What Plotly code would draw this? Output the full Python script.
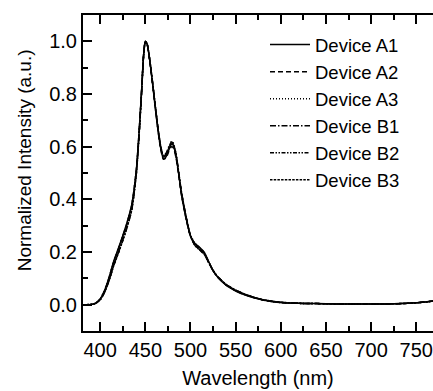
import plotly.graph_objects as go

wavelength = [380, 385, 390, 395, 400, 405, 410, 415, 420, 425, 430, 435, 440, 443, 446, 448,
              450, 452, 455, 458, 461, 464, 467, 470, 473, 476, 479, 481, 484, 487, 490, 495,
              500, 505, 510, 515, 520, 525, 530, 540, 550, 560, 570, 580, 590, 600, 620, 640,
              660, 680, 700, 720, 740, 760, 770]

device_a1 = [0.000, 0.000, 0.001, 0.006, 0.022, 0.055, 0.105, 0.165, 0.212, 0.262, 0.315, 0.380,
             0.510, 0.650, 0.820, 0.945, 1.000, 0.990, 0.925, 0.840, 0.750, 0.665, 0.595, 0.555,
             0.562, 0.588, 0.610, 0.605, 0.565, 0.495, 0.420, 0.330, 0.262, 0.232, 0.218, 0.200,
             0.165, 0.130, 0.105, 0.072, 0.052, 0.037, 0.026, 0.018, 0.012, 0.008, 0.005, 0.004,
             0.003, 0.003, 0.003, 0.003, 0.005, 0.010, 0.015]
device_a2 = [0.000, 0.000, 0.001, 0.006, 0.021, 0.054, 0.103, 0.162, 0.209, 0.259, 0.312, 0.377,
             0.508, 0.648, 0.818, 0.943, 0.998, 0.988, 0.922, 0.838, 0.748, 0.662, 0.592, 0.552,
             0.558, 0.582, 0.600, 0.596, 0.558, 0.490, 0.417, 0.328, 0.260, 0.230, 0.215, 0.197,
             0.163, 0.129, 0.105, 0.073, 0.053, 0.038, 0.027, 0.018, 0.012, 0.008, 0.005, 0.004,
             0.003, 0.003, 0.003, 0.003, 0.005, 0.010, 0.015]
device_a3 = [0.000, 0.000, 0.001, 0.006, 0.022, 0.055, 0.104, 0.164, 0.211, 0.261, 0.314, 0.379,
             0.510, 0.650, 0.820, 0.945, 1.000, 0.990, 0.926, 0.842, 0.752, 0.668, 0.600, 0.562,
             0.572, 0.598, 0.620, 0.614, 0.572, 0.500, 0.424, 0.333, 0.264, 0.233, 0.217, 0.198,
             0.164, 0.130, 0.106, 0.073, 0.053, 0.038, 0.027, 0.018, 0.012, 0.008, 0.005, 0.004,
             0.003, 0.003, 0.003, 0.003, 0.005, 0.010, 0.015]
device_b1 = [0.000, 0.000, 0.001, 0.005, 0.019, 0.049, 0.094, 0.150, 0.196, 0.245, 0.298, 0.362,
             0.497, 0.641, 0.815, 0.942, 1.000, 0.990, 0.928, 0.845, 0.756, 0.672, 0.602, 0.565,
             0.575, 0.600, 0.618, 0.612, 0.572, 0.502, 0.428, 0.336, 0.262, 0.226, 0.210, 0.194,
             0.162, 0.130, 0.107, 0.075, 0.055, 0.040, 0.028, 0.019, 0.013, 0.009, 0.005, 0.004,
             0.003, 0.003, 0.003, 0.003, 0.005, 0.010, 0.015]
device_b2 = [0.000, 0.000, 0.001, 0.005, 0.018, 0.047, 0.092, 0.148, 0.194, 0.243, 0.296, 0.360,
             0.495, 0.639, 0.814, 0.941, 0.999, 0.989, 0.926, 0.843, 0.754, 0.668, 0.598, 0.560,
             0.568, 0.592, 0.610, 0.604, 0.566, 0.498, 0.425, 0.334, 0.260, 0.224, 0.208, 0.192,
             0.161, 0.129, 0.106, 0.075, 0.055, 0.040, 0.028, 0.019, 0.013, 0.009, 0.005, 0.004,
             0.003, 0.003, 0.003, 0.003, 0.005, 0.010, 0.015]
device_b3 = [0.000, 0.000, 0.001, 0.005, 0.019, 0.048, 0.093, 0.149, 0.195, 0.244, 0.297, 0.361,
             0.496, 0.640, 0.815, 0.942, 1.000, 0.990, 0.927, 0.844, 0.755, 0.670, 0.600, 0.562,
             0.570, 0.595, 0.614, 0.608, 0.569, 0.500, 0.426, 0.335, 0.261, 0.225, 0.209, 0.193,
             0.161, 0.130, 0.106, 0.075, 0.055, 0.040, 0.028, 0.019, 0.013, 0.009, 0.005, 0.004,
             0.003, 0.003, 0.003, 0.003, 0.005, 0.010, 0.015]

names = ["Device A1", "Device A2", "Device A3", "Device B1", "Device B2", "Device B3"]
series = [device_a1, device_a2, device_a3, device_b1, device_b2, device_b3]
dashes = ["solid", "5px,3px", "1px,2px", "6px,2px,1.5px,2px", "4px,1.5px,1.5px,1.5px,1.5px,1.5px", "2.5px,1.2px"]

FONT = "Liberation Sans, Arial, sans-serif"

fig = go.Figure()
for name, ys, dash in zip(names, series, dashes):
    fig.add_trace(go.Scatter(
        x=wavelength, y=ys, mode="lines", name=name,
        line=dict(color="black", width=1.5, dash=dash, shape="spline", smoothing=0.6),
    ))

fig.update_layout(
    width=433, height=391,
    margin=dict(l=83, r=0, t=15, b=60),
    paper_bgcolor="white", plot_bgcolor="white",
    font=dict(family=FONT, size=20, color="black"),
    showlegend=True,
    legend=dict(x=0.52, y=0.965, xanchor="left", yanchor="top",
                bgcolor="rgba(0,0,0,0)", font=dict(size=18.5, family=FONT),
                itemwidth=40, tracegroupgap=0),
    annotations=[dict(
        text="Normalized Intensity (a.u.)", textangle=-90,
        xref="paper", yref="paper", x=-0.168, y=0.541,
        xanchor="center", yanchor="middle", showarrow=False,
        font=dict(size=19, family=FONT, color="black"),
    )],
)
fig.update_xaxes(
    range=[381, 768.5], showgrid=False, zeroline=False,
    showline=True, linecolor="black", linewidth=2, mirror="allticks",
    ticks="inside", ticklen=9, tickwidth=1.5, tickcolor="black",
    tick0=400, dtick=50,
    minor=dict(ticks="inside", ticklen=5, tickwidth=1.5, tickcolor="black", dtick=25, tick0=375, showgrid=False),
    tickfont=dict(size=20, family=FONT),
    title=dict(text="Wavelength (nm)", font=dict(size=20, family=FONT), standoff=11),
)
fig.update_yaxes(
    range=[-0.1, 1.1], showgrid=False, zeroline=False,
    showline=True, linecolor="black", linewidth=2, mirror=False,
    ticks="inside", ticklen=9, tickwidth=1.5, tickcolor="black",
    tick0=0, dtick=0.2, tickformat=".1f",
    minor=dict(ticks="inside", ticklen=5, tickwidth=1.5, tickcolor="black", dtick=0.1, tick0=0, showgrid=False),
    tickfont=dict(size=20, family=FONT),
)

fig.write_html("out.html")
